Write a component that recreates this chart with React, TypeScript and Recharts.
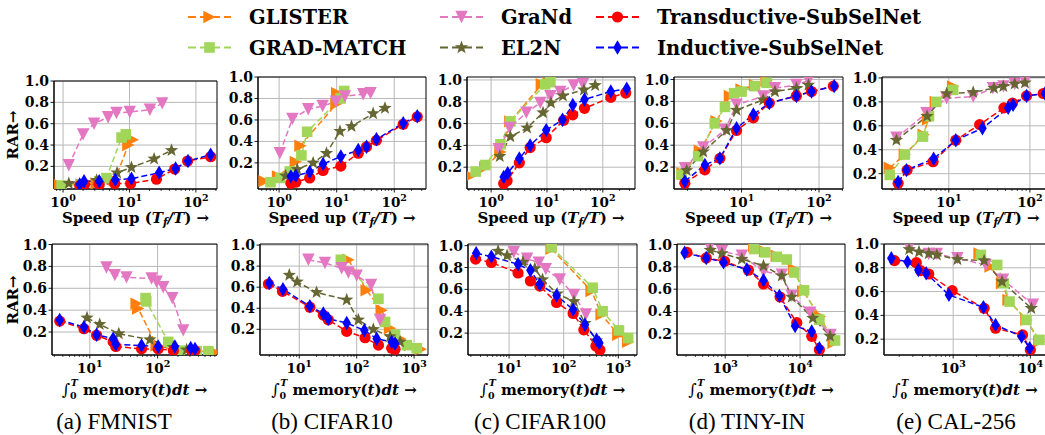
import React from 'react';
import { LineChart, Line, XAxis, YAxis, CartesianGrid, ReferenceArea } from 'recharts';

type Pt = [number, number];

// ---------- Speed-up panels (top row): [speed-up, RAR] ----------
const fmnistSpeedGlister: Pt[] = [[0.87, 0.03], [1.9, 0.03], [3.2, 0.04], [6.0, 0.07], [9.6, 0.40], [11.2, 0.45]];
const fmnistSpeedGradMatch: Pt[] = [[0.95, 0.02], [1.9, 0.03], [3.5, 0.06], [4.5, 0.09], [7.6, 0.47], [8.8, 0.50]];
const fmnistSpeedGraNd: Pt[] = [[1.22, 0.21], [2.0, 0.50], [2.93, 0.60], [4.77, 0.66], [6.37, 0.70], [10.1, 0.71], [20.3, 0.73], [31.1, 0.79]];
const fmnistSpeedEl2n: Pt[] = [[1.22, 0.04], [3.2, 0.07], [6.5, 0.14], [10.7, 0.19], [23.5, 0.27], [43, 0.35]];
const fmnistSpeedTrans: Pt[] = [[1.78, 0.02], [2.1, 0.03], [3.5, 0.03], [6.0, 0.04], [10.4, 0.04], [25.5, 0.08], [48, 0.175], [75, 0.25], [167, 0.29]];
const fmnistSpeedInd: Pt[] = [[1.78, 0.03], [2.07, 0.06], [3.5, 0.06], [6.1, 0.075], [10.7, 0.085], [28, 0.14], [49.5, 0.18], [76, 0.25], [167, 0.31]];

const cifar10SpeedGlister: Pt[] = [[0.56, 0.03], [0.96, 0.075], [1.95, 0.21], [2.35, 0.36], [9.9, 0.75], [10.2, 0.85]];
const cifar10SpeedGradMatch: Pt[] = [[0.71, 0.02], [1.05, 0.06], [1.53, 0.12], [2.44, 0.27], [3.07, 0.49], [11.7, 0.80], [13.5, 0.87]];
const cifar10SpeedGraNd: Pt[] = [[1.03, 0.29], [1.7, 0.61], [3.2, 0.70], [5.7, 0.73], [9.7, 0.77], [13.9, 0.82], [28.9, 0.84], [38.8, 0.85]];
const cifar10SpeedEl2n: Pt[] = [[1.3, 0.08], [2.06, 0.14], [3.9, 0.20], [6.65, 0.29], [11.4, 0.495], [18.1, 0.54], [43, 0.66], [69, 0.71]];
const cifar10SpeedTrans: Pt[] = [[1.6, 0.01], [1.95, 0.02], [3.4, 0.06], [5.8, 0.13], [11.8, 0.17], [23.7, 0.29], [33, 0.35], [49, 0.41], [143, 0.56], [251, 0.63]];
const cifar10SpeedInd: Pt[] = [[1.6, 0.075], [1.95, 0.08], [3.4, 0.115], [5.8, 0.19], [11.8, 0.26], [23.7, 0.32], [33, 0.35], [49, 0.42], [143, 0.57], [251, 0.635]];

const cifar100SpeedGlister: Pt[] = [[0.43, 0.12], [0.79, 0.20], [1.47, 0.34], [2.21, 0.62], [8.1, 0.96], [10.7, 0.97]];
const cifar100SpeedGradMatch: Pt[] = [[0.53, 0.16], [0.79, 0.22], [1.47, 0.41], [2.21, 0.62], [9.3, 0.96], [11.5, 0.98]];
const cifar100SpeedGraNd: Pt[] = [[1.37, 0.365], [2.15, 0.56], [4.27, 0.70], [7.6, 0.79], [11.5, 0.85], [17.3, 0.89], [30, 0.95], [44, 0.96]];
const cifar100SpeedEl2n: Pt[] = [[1.43, 0.30], [2.21, 0.48], [4.4, 0.56], [8.5, 0.70], [11.8, 0.79], [19.3, 0.855], [46, 0.91], [73, 0.95]];
const cifar100SpeedTrans: Pt[] = [[1.68, 0.05], [1.93, 0.075], [3.2, 0.24], [5.0, 0.38], [9.7, 0.47], [19.9, 0.63], [29, 0.68], [47, 0.74], [139, 0.84], [257, 0.88]];
const cifar100SpeedInd: Pt[] = [[1.68, 0.11], [1.98, 0.145], [3.2, 0.28], [5.0, 0.40], [9.7, 0.54], [19, 0.635], [29, 0.77], [47, 0.82], [139, 0.895], [268, 0.92]];

const tinySpeedGlister: Pt[] = [[1.73, 0.145], [2.89, 0.35], [4.75, 0.62], [7.07, 0.85], [10, 0.91], [14.9, 0.95], [21, 0.99]];
const tinySpeedGradMatch: Pt[] = [[1.68, 0.13], [2.75, 0.30], [4.5, 0.60], [6.1, 0.75], [8.0, 0.875], [10, 0.89], [14.9, 0.94], [21, 0.97]];
const tinySpeedGraNd: Pt[] = [[1.85, 0.19], [3.2, 0.38], [6.1, 0.54], [8.6, 0.77], [19, 0.845], [27, 0.92], [51, 0.95], [73, 0.99]];
const tinySpeedEl2n: Pt[] = [[1.95, 0.17], [3.2, 0.34], [6.4, 0.535], [8.6, 0.72], [19, 0.815], [27, 0.89], [51, 0.92], [73, 0.95]];
const tinySpeedTrans: Pt[] = [[1.85, 0.053], [3.36, 0.175], [5.25, 0.28], [8.6, 0.535], [14.2, 0.65], [22.8, 0.785], [51, 0.85], [80, 0.89], [153, 0.94]];
const tinySpeedInd: Pt[] = [[1.85, 0.07], [3.36, 0.22], [5.25, 0.28], [8.6, 0.555], [14.2, 0.68], [22.8, 0.785], [51, 0.85], [80, 0.89], [157, 0.94]];

const calSpeedGlister: Pt[] = [[1.87, 0.25], [2.87, 0.36], [4.9, 0.525], [5.56, 0.655], [6.9, 0.80], [11.3, 0.93]];
const calSpeedGradMatch: Pt[] = [[1.87, 0.19], [2.87, 0.36], [4.8, 0.51], [5.7, 0.68], [7.0, 0.80], [11.3, 0.90]];
const calSpeedGraNd: Pt[] = [[2.26, 0.50], [5.3, 0.705], [9.4, 0.83], [20, 0.845], [35, 0.915], [47, 0.93], [65, 0.95], [87, 0.97]];
const calSpeedEl2n: Pt[] = [[2.26, 0.48], [5.4, 0.68], [9.4, 0.87], [20, 0.88], [36, 0.915], [47, 0.93], [65, 0.95], [87, 0.96]];
const calSpeedTrans: Pt[] = [[2.37, 0.12], [3.06, 0.23], [6.4, 0.30], [12.2, 0.48], [24, 0.61], [47.8, 0.75], [61, 0.79], [91, 0.85], [146, 0.87]];
const calSpeedInd: Pt[] = [[2.37, 0.13], [3.0, 0.23], [6.5, 0.325], [12.2, 0.48], [26, 0.58], [54, 0.75], [62, 0.775], [91, 0.85], [153, 0.87]];

// ---------- Memory panels (bottom row): [integral of memory, RAR] ----------
const fmnistMemGlister: Pt[] = [[49, 0.46], [51.8, 0.415], [96.6, 0.077], [191, 0.03], [377, 0.025], [703, 0.015]];
const fmnistMemGradMatch: Pt[] = [[66.5, 0.51], [68, 0.48], [144, 0.11], [214, 0.03], [377, 0.025], [561, 0.025]];
const fmnistMemGraNd: Pt[] = [[17.6, 0.79], [23.4, 0.72], [34.8, 0.70], [81.5, 0.69], [96.6, 0.66], [121, 0.61], [165, 0.51], [239, 0.215]];
const fmnistMemEl2n: Pt[] = [[9.1, 0.33], [14, 0.27], [26.8, 0.185], [77, 0.13], [171, 0.06], [268, 0.037]];
const fmnistMemTrans: Pt[] = [[3.6, 0.30], [8.2, 0.23], [12.6, 0.17], [22.1, 0.11], [24.2, 0.068], [58, 0.046], [102, 0.046], [171, 0.03], [318, 0.03], [356, 0.03]];
const fmnistMemInd: Pt[] = [[3.6, 0.31], [8.2, 0.245], [12.6, 0.175], [22.1, 0.14], [24.2, 0.086], [58, 0.077], [102, 0.068], [180, 0.068], [308, 0.055], [356, 0.046]];

const cifar10MemGlister: Pt[] = [[71.6, 0.86], [149, 0.57], [273, 0.38], [381, 0.21], [570, 0.11], [851, 0.05], [1306, 0.01]];
const cifar10MemGradMatch: Pt[] = [[53, 0.86], [239, 0.49], [312, 0.27], [466, 0.15], [745, 0.05], [1114, 0.02]];
const cifar10MemGraNd: Pt[] = [[14.4, 0.86], [28, 0.83], [54.7, 0.78], [71.6, 0.74], [100, 0.71], [178, 0.62], [255, 0.29]];
const cifar10MemEl2n: Pt[] = [[6.7, 0.715], [9.2, 0.65], [20, 0.55], [67, 0.48], [107, 0.29], [195, 0.20], [381, 0.13], [570, 0.08]];
const cifar10MemTrans: Pt[] = [[2.9, 0.63], [5.1, 0.56], [15.3, 0.41], [26.2, 0.335], [32, 0.29], [67, 0.18], [140, 0.12], [239, 0.05], [407, 0.02], [466, 0.01]];
const cifar10MemInd: Pt[] = [[3.0, 0.64], [5.2, 0.58], [15.3, 0.42], [26.2, 0.35], [32, 0.30], [67, 0.26], [136, 0.19], [223, 0.11], [407, 0.08], [466, 0.065]];

const cifar100MemGlister: Pt[] = [[60, 0.97], [324, 0.585], [494, 0.37], [1000, 0.185], [1516, 0.12]];
const cifar100MemGradMatch: Pt[] = [[60, 0.985], [339, 0.615], [516, 0.40], [1028, 0.225], [1516, 0.155]];
const cifar100MemGraNd: Pt[] = [[12.2, 0.94], [21.4, 0.88], [35, 0.845], [47, 0.785], [85, 0.69], [154, 0.55], [255, 0.37]];
const cifar100MemEl2n: Pt[] = [[6.3, 0.95], [9.2, 0.91], [18, 0.85], [29.6, 0.79], [41, 0.69], [76, 0.56], [154, 0.49], [245, 0.29], [400, 0.13]];
const cifar100MemTrans: Pt[] = [[2.44, 0.877], [4.74, 0.846], [14.6, 0.75], [24.6, 0.677], [36.5, 0.63], [74, 0.48], [149, 0.38], [234, 0.23], [389, 0.083], [461, 0.046]];
const cifar100MemInd: Pt[] = [[2.5, 0.93], [4.74, 0.90], [14.6, 0.83], [24.6, 0.775], [36.5, 0.646], [74, 0.545], [149, 0.415], [245, 0.277], [400, 0.14], [450, 0.11]];

const tinyMemGlister: Pt[] = [[2437, 0.985], [3415, 0.94], [4883, 0.90], [8320, 0.78], [11000, 0.58], [18500, 0.355], [28000, 0.12]];
const tinyMemGradMatch: Pt[] = [[2437, 0.96], [3415, 0.93], [4883, 0.89], [6640, 0.866], [8320, 0.75], [11300, 0.59], [18100, 0.327], [29300, 0.14]];
const tinyMemGraNd: Pt[] = [[618, 0.98], [903, 0.94], [1668, 0.90], [3245, 0.76], [5700, 0.73], [7740, 0.54], [13600, 0.39], [25600, 0.19]];
const tinyMemEl2n: Pt[] = [[631, 0.95], [903, 0.92], [1668, 0.87], [3245, 0.81], [5700, 0.72], [7740, 0.53], [14800, 0.34], [25100, 0.18]];
const tinyMemTrans: Pt[] = [[308, 0.93], [558, 0.88], [980, 0.85], [2044, 0.77], [3245, 0.647], [5400, 0.53], [9030, 0.30], [14300, 0.177], [18100, 0.057]];
const tinyMemInd: Pt[] = [[287, 0.926], [558, 0.88], [950, 0.84], [1945, 0.776], [3245, 0.68], [5300, 0.54], [8580, 0.27], [14300, 0.22], [18100, 0.072]];

const calMemGlister: Pt[] = [[2200, 0.92], [3050, 0.81], [4296, 0.67], [5210, 0.53], [8900, 0.362], [13100, 0.18]];
const calMemGradMatch: Pt[] = [[2287, 0.908], [3715, 0.824], [4510, 0.67], [5370, 0.516], [8900, 0.362], [13100, 0.194]];
const calMemGraNd: Pt[] = [[269, 0.972], [483, 0.916], [615, 0.916], [1135, 0.88], [2640, 0.824], [4430, 0.70], [10800, 0.49]];
const calMemEl2n: Pt[] = [[269, 0.955], [361, 0.935], [483, 0.92], [615, 0.908], [1135, 0.87], [2518, 0.86], [4296, 0.684], [10300, 0.46]];
const calMemTrans: Pt[] = [[174, 0.86], [333, 0.843], [378, 0.776], [483, 0.748], [971, 0.608], [2518, 0.46], [3540, 0.292], [7920, 0.236], [10000, 0.11]];
const calMemInd: Pt[] = [[158, 0.88], [256, 0.85], [354, 0.782], [447, 0.754], [881, 0.572], [2467, 0.468], [3540, 0.32], [7700, 0.222], [9810, 0.124]];

// ---------- labels ----------
const SERIES_NAMES = ['GLISTER', 'GRAD-MATCH', 'GraNd', 'EL2N', 'Transductive-SubSelNet', 'Inductive-SubSelNet'];
const Y_TICKS = [0.2, 0.4, 0.6, 0.8, 1.0];
const CAPTIONS = ['(a) FMNIST', '(b) CIFAR10', '(c) CIFAR100', '(d) TINY-IN', '(e) CAL-256'];
const Y_LABEL = 'RAR→';

// ---------- styles & layout ----------
const COLORS = ['#ff7f0e', '#a1d658', '#e377c2', '#666633', '#ff0000', '#0000ff'];
const SHAPES = ['triRight', 'square', 'triDown', 'star', 'circle', 'thinDiamond'];
const FONT = "'DejaVu Serif', serif";
const CAP_FONT = "'Liberation Serif', 'Times New Roman', serif";

const SPEED_DATA: Pt[][][] = [
  [fmnistSpeedGlister, fmnistSpeedGradMatch, fmnistSpeedGraNd, fmnistSpeedEl2n, fmnistSpeedTrans, fmnistSpeedInd],
  [cifar10SpeedGlister, cifar10SpeedGradMatch, cifar10SpeedGraNd, cifar10SpeedEl2n, cifar10SpeedTrans, cifar10SpeedInd],
  [cifar100SpeedGlister, cifar100SpeedGradMatch, cifar100SpeedGraNd, cifar100SpeedEl2n, cifar100SpeedTrans, cifar100SpeedInd],
  [tinySpeedGlister, tinySpeedGradMatch, tinySpeedGraNd, tinySpeedEl2n, tinySpeedTrans, tinySpeedInd],
  [calSpeedGlister, calSpeedGradMatch, calSpeedGraNd, calSpeedEl2n, calSpeedTrans, calSpeedInd],
];
const MEM_DATA: Pt[][][] = [
  [fmnistMemGlister, fmnistMemGradMatch, fmnistMemGraNd, fmnistMemEl2n, fmnistMemTrans, fmnistMemInd],
  [cifar10MemGlister, cifar10MemGradMatch, cifar10MemGraNd, cifar10MemEl2n, cifar10MemTrans, cifar10MemInd],
  [cifar100MemGlister, cifar100MemGradMatch, cifar100MemGraNd, cifar100MemEl2n, cifar100MemTrans, cifar100MemInd],
  [tinyMemGlister, tinyMemGradMatch, tinyMemGraNd, tinyMemEl2n, tinyMemTrans, tinyMemInd],
  [calMemGlister, calMemGradMatch, calMemGraNd, calMemEl2n, calMemTrans, calMemInd],
];

type Layout = { L: number; R: number; T: number; B: number; xd: [number, number]; yd: [number, number] };
const SPEED_LAYOUT: Layout[] = [
  { L: 54, R: 217, T: 81, B: 189, xd: [0.73, 208], yd: [-0.012, 1.0] },
  { L: 258, R: 426, T: 77, B: 189, xd: [0.43, 356], yd: [-0.043, 1.0] },
  { L: 467, R: 635, T: 77, B: 189, xd: [0.37, 377], yd: [0, 1.027] },
  { L: 674, R: 843, T: 77, B: 189, xd: [1.34, 204], yd: [0, 1.023] },
  { L: 882, R: 1050, T: 77, B: 189, xd: [1.5, 177], yd: [0.072, 1.008] },
];
const MEM_LAYOUT: Layout[] = [
  { L: 52, R: 217, T: 244, B: 355, xd: [2.77, 752], yd: [-0.01, 1.005] },
  { L: 260, R: 428, T: 244, B: 355, xd: [2.07, 1746], yd: [-0.044, 1.01] },
  { L: 468, R: 637, T: 244, B: 355, xd: [1.77, 2200], yd: [0, 1.015] },
  { L: 677, R: 845, T: 244, B: 355, xd: [227, 39800], yd: [0.01, 1.005] },
  { L: 884, R: 1046, T: 244, B: 355, xd: [127, 15950], yd: [0.067, 1.0] },
];
const CAPTION_X = [114, 332, 540, 747, 956];
const LEGEND_COLS = [188, 440, 596];
const LEGEND_ROWS = [17, 47.5];

function marker(shape: string, cx: number, cy: number, color: string) {
  switch (shape) {
    case 'triRight': {
      const r = 6.2;
      return <path d={`M${cx + r},${cy} L${cx - r},${cy - r} L${cx - r},${cy + r} Z`} fill={color} />;
    }
    case 'triDown': {
      const r = 6.2;
      return <path d={`M${cx},${cy + r} L${cx - r},${cy - r} L${cx + r},${cy - r} Z`} fill={color} />;
    }
    case 'square':
      return <rect x={cx - 5.3} y={cy - 5.3} width={10.6} height={10.6} fill={color} />;
    case 'circle':
      return <circle cx={cx} cy={cy} r={5.6} fill={color} />;
    case 'thinDiamond':
      return <path d={`M${cx},${cy - 7.2} L${cx + 4.3},${cy} L${cx},${cy + 7.2} L${cx - 4.3},${cy} Z`} fill={color} />;
    case 'star': {
      const pts: string[] = [];
      for (let i = 0; i < 10; i++) {
        const rad = i % 2 === 0 ? 7 : 2.9;
        const a = -Math.PI / 2 + (i * Math.PI) / 5;
        pts.push(`${cx + rad * Math.cos(a)},${cy + rad * Math.sin(a)}`);
      }
      return <polygon points={pts.join(' ')} fill={color} />;
    }
    default:
      return null;
  }
}

function makeDot(shape: string, color: string) {
  return (p: any) => {
    const { cx, cy, index } = p;
    if (cx == null || cy == null || isNaN(cx) || isNaN(cy)) return <g key={`d${index}`} />;
    return <g key={`d${index}`}>{marker(shape, cx, cy, color)}</g>;
  };
}

function XTick(props: any) {
  const { x, y, payload } = props;
  const v = payload.value as number;
  const lg = Math.log10(v);
  const exp = Math.round(lg);
  const major = Math.abs(lg - exp) < 1e-6;
  return (
    <g>
      <line x1={x} x2={x} y1={y} y2={y + (major ? 3.5 : 2)} stroke="#000" strokeWidth={major ? 0.9 : 0.7} />
      {major && (
        <text x={x} y={y + 18} textAnchor="middle" fontFamily={FONT} fontWeight="bold" fontSize={13.5} fill="#000">
          <tspan>10</tspan>
          <tspan dy={-6} fontSize={9.5}>{exp}</tspan>
        </text>
      )}
    </g>
  );
}

function YTick(props: any) {
  const { x, y, payload } = props;
  return (
    <text x={x} y={y + 5} textAnchor="end" fontFamily={FONT} fontWeight="bold" fontSize={14} fill="#000">
      {(payload.value as number).toFixed(1)}
    </text>
  );
}

function Panel({ layout, data }: { layout: Layout; data: Pt[][] }) {
  const { L, R, T, B, xd, yd } = layout;
  const yw = 50;
  const mt = 10;
  const mr = 12;
  const xh = 30;
  const w = R - L + yw + mr;
  const h = B - T + mt + xh;
  const majors: number[] = [];
  const ticks: number[] = [];
  for (let k = Math.floor(Math.log10(xd[0])); k <= Math.ceil(Math.log10(xd[1])); k++) {
    for (let m = 1; m <= 9; m++) {
      const v = m * Math.pow(10, k);
      if (v >= xd[0] && v <= xd[1]) {
        ticks.push(v);
        if (m === 1) majors.push(v);
      }
    }
  }
  return (
    <div style={{ position: 'absolute', left: L - yw, top: T - mt }}>
      <LineChart width={w} height={h} margin={{ top: mt, right: mr, bottom: 0, left: 0 }}>
        <CartesianGrid stroke="#b8b8b8" strokeWidth={1} horizontalValues={Y_TICKS} verticalValues={majors} />
        <XAxis
          dataKey="x"
          type="number"
          scale="log"
          domain={xd}
          allowDataOverflow
          ticks={ticks}
          interval={0}
          tickLine={false}
          tickSize={0}
          tickMargin={0}
          height={xh}
          axisLine={{ stroke: '#000', strokeWidth: 1 }}
          tick={(p: any) => <XTick {...p} />}
        />
        <YAxis
          type="number"
          domain={yd}
          allowDataOverflow
          ticks={Y_TICKS}
          interval={0}
          width={yw}
          tickSize={3.5}
          tickMargin={1.5}
          tick={(p: any) => <YTick {...p} />}
          tickLine={{ stroke: '#000', strokeWidth: 0.9 }}
          axisLine={{ stroke: '#000', strokeWidth: 1 }}
        />
        {data.map((pts, i) => (
          <Line
            key={SERIES_NAMES[i]}
            name={SERIES_NAMES[i]}
            data={pts.map(([x, y]) => ({ x, y }))}
            dataKey="y"
            type="linear"
            stroke={COLORS[i]}
            strokeWidth={1.5}
            strokeDasharray="6 3"
            dot={makeDot(SHAPES[i], COLORS[i])}
            activeDot={false}
            isAnimationActive={false}
          />
        ))}
        <ReferenceArea x1={xd[0]} x2={xd[1]} y1={yd[0]} y2={yd[1]} fill="none" fillOpacity={0} stroke="#000" strokeWidth={1} ifOverflow="visible" />
      </LineChart>
    </div>
  );
}

function Overlay() {
  return (
    <svg width={1045} height={435} style={{ position: 'absolute', left: 0, top: 0, pointerEvents: 'none' }}>
      {/* legend */}
      {SERIES_NAMES.map((name, i) => {
        const col = Math.floor(i / 2);
        const row = i % 2;
        const x0 = LEGEND_COLS[col];
        const cy = LEGEND_ROWS[row];
        return (
          <g key={name}>
            <line x1={x0} x2={x0 + 43} y1={cy} y2={cy} stroke={COLORS[i]} strokeWidth={2} strokeDasharray="8 4" />
            {marker(SHAPES[i], x0 + 21.5, cy, COLORS[i])}
            <text x={x0 + 61} y={cy + 7} fontFamily={FONT} fontWeight="bold" fontSize={19.5} fill="#000">{name}</text>
          </g>
        );
      })}
      {/* y labels */}
      {[135, 300].map((cy) => (
        <text key={cy} transform={`translate(18,${cy}) rotate(-90)`} textAnchor="middle" fontFamily={FONT} fontWeight="bold" fontSize={15} fill="#000">{Y_LABEL}</text>
      ))}
      {/* x labels */}
      {SPEED_LAYOUT.map((l, i) => (
        <text key={`s${i}`} x={(l.L + l.R) / 2} y={223} textAnchor="middle" fontFamily={FONT} fontWeight="bold" fontSize={15} fill="#000">
          <tspan>{'Speed up ('}</tspan>
          <tspan fontStyle="italic">T</tspan>
          <tspan fontStyle="italic" fontSize={10.5} dy={3}>f</tspan>
          <tspan fontStyle="italic" dy={-3}>/T</tspan>
          <tspan>{') →'}</tspan>
        </text>
      ))}
      {MEM_LAYOUT.map((l, i) => (
        <text key={`m${i}`} x={(l.L + l.R) / 2} y={395} textAnchor="middle" fontFamily={FONT} fontWeight="bold" fontSize={15} fill="#000">
          <tspan fontWeight="normal" fontSize={16}>∫</tspan>
          <tspan fontSize={9.5} dy={4}>0</tspan>
          <tspan fontSize={9.5} fontStyle="italic" dx={-6} dy={-13}>T</tspan>
          <tspan dy={9}>{' memory('}</tspan>
          <tspan fontStyle="italic">t</tspan>
          <tspan>{')'}</tspan>
          <tspan fontStyle="italic">dt</tspan>
          <tspan>{' →'}</tspan>
        </text>
      ))}
      {/* captions */}
      {CAPTIONS.map((c, i) => (
        <text key={c} x={CAPTION_X[i]} y={429} textAnchor="middle" fontFamily={CAP_FONT} fontSize={23} fill="#000">{c}</text>
      ))}
    </svg>
  );
}

export default function App() {
  return (
    <div style={{ position: 'absolute', left: 0, top: 0, width: 1045, height: 435, background: '#fff', overflow: 'hidden' }}>
      {SPEED_LAYOUT.map((l, i) => (
        <Panel key={`sp${i}`} layout={l} data={SPEED_DATA[i]} />
      ))}
      {MEM_LAYOUT.map((l, i) => (
        <Panel key={`mp${i}`} layout={l} data={MEM_DATA[i]} />
      ))}
      <Overlay />
    </div>
  );
}
